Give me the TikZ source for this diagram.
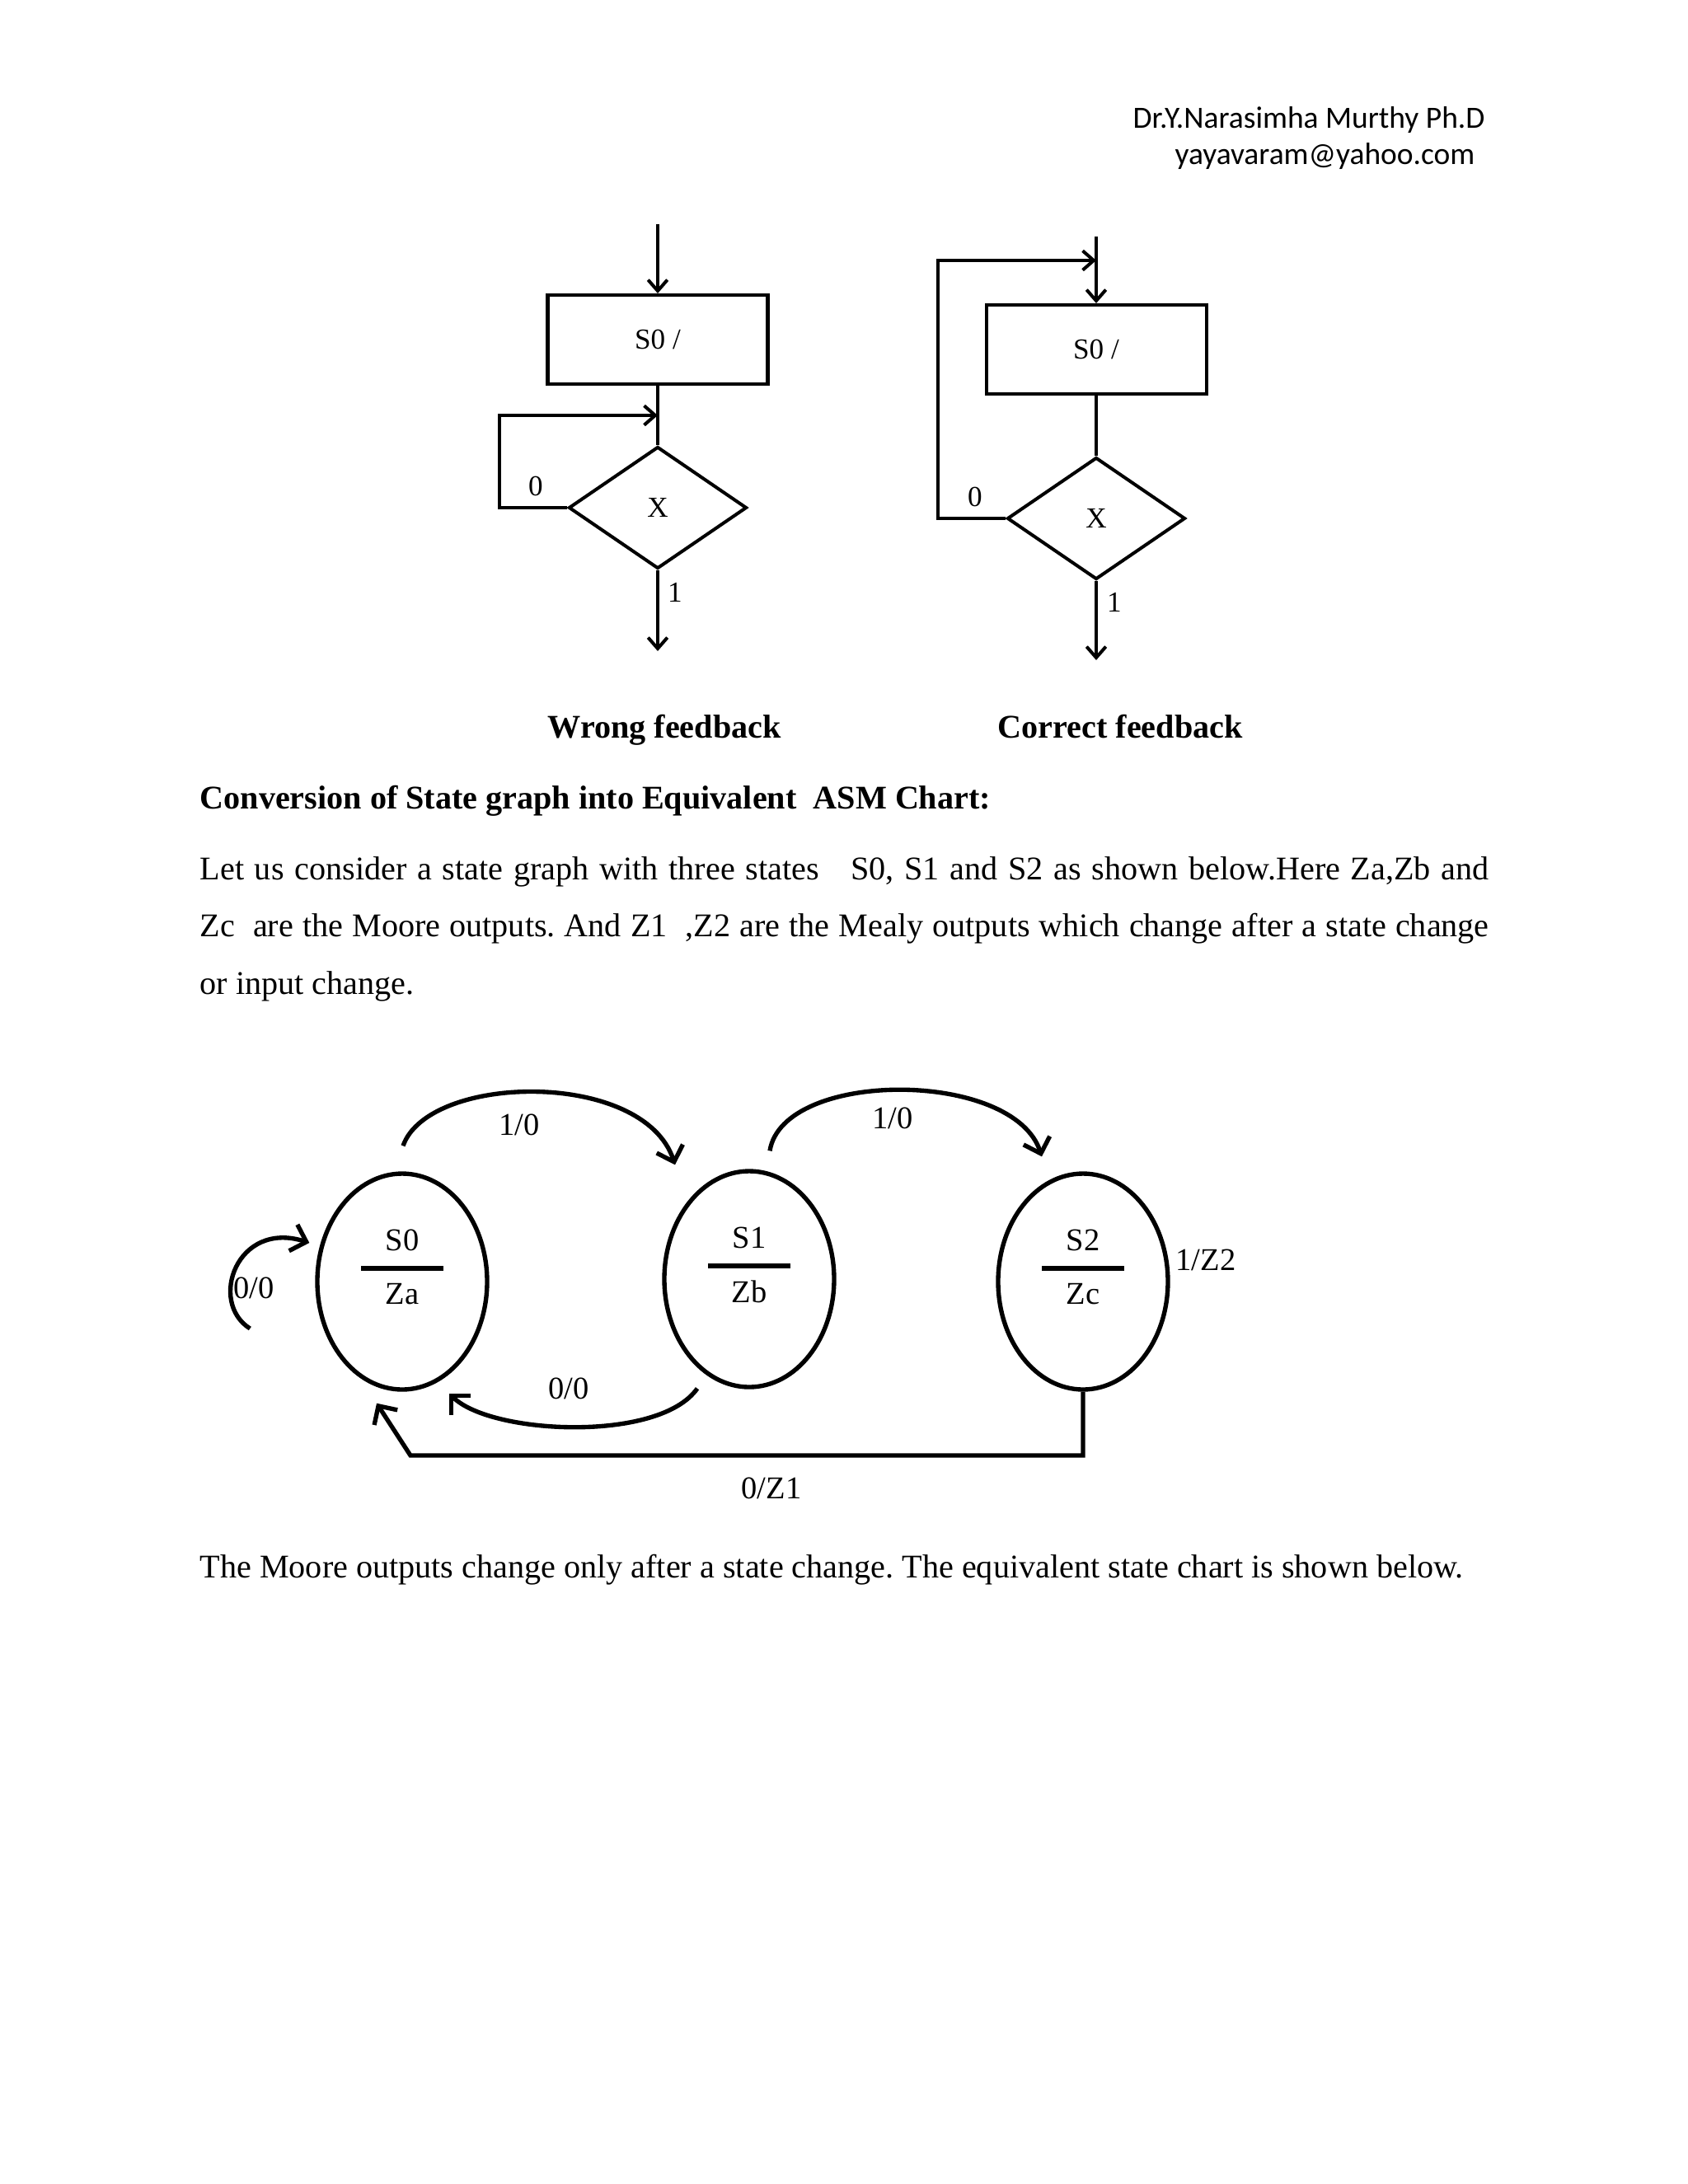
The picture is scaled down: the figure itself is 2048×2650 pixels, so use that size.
\documentclass[tikz,border=0pt]{standalone}
\usepackage{fontspec}
\setmainfont{Liberation Serif}
\newfontfamily\hdrfont{Carlito}
\usetikzlibrary{shapes.geometric,arrows.meta,positioning,calc}
\newcommand{\pxl}{0.29883pt}
\frenchspacing

\begin{document}
\begin{tikzpicture}[x=0.29883pt,y=-0.29883pt,>={Straight Barb[length=4pt,width=7pt]},
   blk/.style={rectangle,draw,line width=1.2pt,minimum width=267*\pxl,minimum height=108*\pxl,inner sep=0pt,font=\fontsize{10.5}{12}\selectfont},
   dec/.style={diamond,draw,line width=1.2pt,minimum width=216*\pxl,minimum height=148*\pxl,inner sep=0pt,aspect=1.46,font=\fontsize{10.5}{12}\selectfont},
   fl/.style={line width=1.2pt},
   flab/.style={font=\fontsize{10.5}{12}\selectfont,inner sep=0pt},
   st/.style={ellipse,draw,line width=1.6pt,minimum width=206*\pxl,minimum height=262*\pxl,inner sep=0pt},
   slab/.style={font=\fontsize{11.5}{13}\selectfont,inner sep=0pt},
   tr/.style={line width=1.6pt,->,>={Straight Barb[length=5pt,width=10pt]}},
   txt/.style={font=\fontsize{12}{14}\selectfont,inner sep=0pt,anchor=base west}]
  \useasboundingbox[fill=white] (0,0) rectangle (2048,2650);

  % header
  \node[txt,font=\hdrfont\fontsize{11.2}{13}\selectfont] (hdr1) at (1374,155) {Dr.Y.Narasimha Murthy Ph.D};
  \node[txt,font=\hdrfont\fontsize{11.2}{13}\selectfont] (hdr2) at (1425,199) {yayavaram@yahoo.com};

  % wrong feedback
  \node[blk] (lbox) at (798,412) {S0 /};
  \node[dec] (ldia) at (798,616) {X};
  \coordinate (lin) at (798,272);
  \coordinate (lret) at (798,504);
  \coordinate (lout) at (798,790);
  \draw[fl,->] (lin) -- (lbox);
  \draw[fl] (lbox) -- (ldia);
  \draw[fl,->] (ldia.west) -- ++(-82,0) |- (lret);
  \draw[fl,->] (ldia) -- (lout);
  \node[flab] (l0) at (650,590) {0};
  \node[flab] (l1) at (819,719) {1};

  % correct feedback
  \node[blk] (rbox) at (1330,424) {S0 /};
  \node[dec] (rdia) at (1330,629) {X};
  \coordinate (rin) at (1330,287);
  \coordinate (rret) at (1330,316);
  \coordinate (rout) at (1330,801);
  \draw[fl,->] (rin) -- (rbox);
  \draw[fl] (rbox) -- (rdia);
  \draw[fl,->] (rdia.west) -- ++(-82,0) |- (rret);
  \draw[fl,->] (rdia) -- (rout);
  \node[flab] (r0) at (1183,603) {0};
  \node[flab] (r1) at (1352,731) {1};

  \node[txt,font=\fontsize{12}{14}\selectfont\bfseries] (cap1) at (664,895) {Wrong feedback};
  \node[txt,font=\fontsize{12}{14}\selectfont\bfseries] (cap2) at (1210,895) {Correct feedback};

  % text
  \node[txt,font=\fontsize{12}{14}\selectfont\bfseries] (head) at (242,981) {Conversion of State graph into Equivalent\ \ ASM Chart:};
  \node[txt,text width=1564*\pxl,align=justify,font=\fontsize{12}{20.8}\selectfont] (para) at (242,1067)
    {Let us consider a state graph with three states\ \ \ S0, S1 and S2 as shown below.Here Za,Zb and\linebreak
     Zc\ \ are the Moore outputs. And Z1\ \ ,Z2 are the Mealy outputs which change after a state change\linebreak
     or input change.};
  \node[txt] (last) at (242,1914) {The Moore outputs change only after a state change. The equivalent state chart is shown below.};

  % state graph
  \node[st] (s0) at (488,1555) {};
  \node[st] (s1) at (909,1552) {};
  \node[st] (s2) at (1314,1555) {};
  \foreach \s/\nm/\zm in {s0/S0/Za,s1/S1/Zb,s2/S2/Zc} {
    \node[slab] (\s name) at ($(\s)+(0,-50)$) {\nm};
    \node[slab] (\s out) at ($(\s)+(0,15)$) {\zm};
    \draw[line width=2pt] ($(\s)+(-50,-16)$) -- ($(\s)+(50,-16)$);
  }

  \coordinate (t01a) at ($(s0.north)+(1,-31)$);
  \coordinate (t01b) at ($(s1.north)+(-90,-5)$);
  \coordinate (t12a) at ($(s1.north)+(25,-22)$);
  \coordinate (t12b) at ($(s2.north)+(-50,-18)$);
  \coordinate (t10a) at ($(s1.south)+(-63,-1)$);
  \coordinate (t10b) at ($(s0.south)+(57,2)$);
  \coordinate (t00a) at ($(s0.west)+(-79,57)$);
  \coordinate (t00b) at ($(s0.west)+(-7,-47)$);
  \coordinate (t20c) at (498,1766);
  \coordinate (t20e) at ($(s0.south)+(-31,14)$);

  \draw[tr] (t01a) .. controls +(31,-88) and +(-38,-116) .. (t01b);
  \draw[tr] (t12a) .. controls +(16,-99) and +(-34,-106) .. (t12b);
  \draw[tr] (t10a) .. controls +(-46,66) and +(50,50) .. (t10b);
  \draw[tr] (t00a) .. controls +(-51,-32) and +(-88,-28) .. (t00b);
  \draw[tr] (s2.south) |- (t20c) -- (t20e);

  \node[slab] (l01) at (630,1365) {1/0};
  \node[slab] (l12) at (1083,1357) {1/0};
  \node[slab] (l10) at (690,1685) {0/0};
  \node[slab] (l00) at (308,1563) {0/0};
  \node[slab] (l22) at (1463,1529) {1/Z2};
  \node[slab] (l20) at (936,1806) {0/Z1};
\end{tikzpicture}
\end{document}
